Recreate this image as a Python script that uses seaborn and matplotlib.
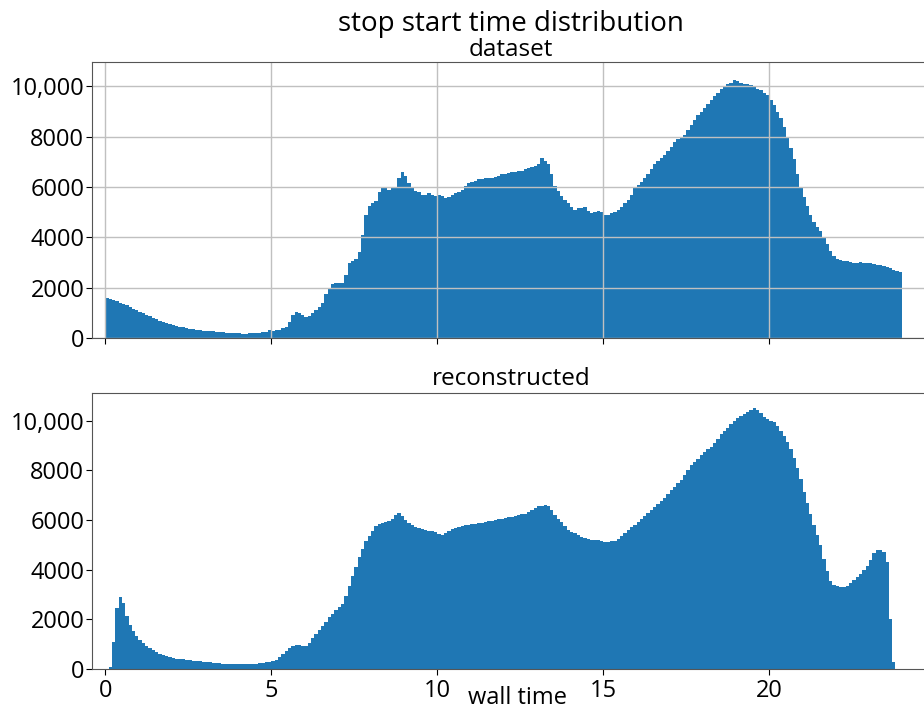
import numpy as np
import pandas as pd
import matplotlib
matplotlib.use("Agg")
import matplotlib.pyplot as plt
from matplotlib.ticker import FuncFormatter
import seaborn as sns

plt.rcParams['font.family'] = ['Open Sans', 'DejaVu Sans']

# bin width 0.1 h, 0 .. 24 h
bin_width = 0.1
n_bins = 240

dataset_counts = [
    1600, 1560, 1510, 1460, 1410, 1360, 1310, 1240, 1170, 1100,
    1040, 980, 920, 860, 800, 740, 680, 630, 580, 540,
    510, 480, 450, 420, 400, 370, 340, 320, 300, 290,
    280, 270, 260, 250, 235, 220, 210, 200, 195, 185,
    180, 175, 175, 180, 185, 195, 210, 225, 250, 300,
    290, 300, 330, 380, 450, 650, 900, 1020, 1000, 900,
    820, 860, 980, 1100, 1250, 1400, 1750, 2000, 2150, 2170,
    2180, 2200, 2500, 3000, 3050, 3150, 3400, 4100, 4900, 5250,
    5350, 5450, 5800, 5950, 5950, 5900, 5950, 6000, 6350, 6600,
    6450, 6150, 5950, 5850, 5800, 5700, 5700, 5750, 5700, 5650,
    5700, 5650, 5550, 5600, 5700, 5750, 5800, 5900, 6050, 6150,
    6200, 6250, 6300, 6300, 6350, 6350, 6350, 6400, 6450, 6500,
    6520, 6550, 6580, 6600, 6620, 6650, 6700, 6750, 6800, 6850,
    6900, 7150, 7050, 6900, 6500, 6050, 5850, 5650, 5500, 5350,
    5200, 5080, 5150, 5150, 5200, 5050, 4950, 5000, 5050, 5000,
    4900, 4870, 4950, 5000, 5080, 5200, 5350, 5480, 5700, 6000,
    6100, 6200, 6340, 6500, 6700, 6900, 7050, 7150, 7270, 7450,
    7600, 7800, 7900, 8000, 8060, 8250, 8450, 8650, 8850, 9000,
    9150, 9300, 9450, 9600, 9750, 9900, 10000, 10100, 10150, 10250,
    10200, 10150, 10100, 10100, 10050, 10000, 9900, 9850, 9750, 9650,
    9450, 9250, 9000, 8750, 8400, 8000, 7550, 7100, 6500, 6000,
    5600, 5250, 4900, 4600, 4400, 4250, 4000, 3750, 3450, 3250,
    3150, 3100, 3080, 3050, 3020, 3000, 3000, 3020, 3000, 3000,
    2980, 2950, 2920, 2900, 2880, 2820, 2780, 2720, 2680, 2630,
]

reconstructed_counts = [
    0, 80, 1100, 2450, 2900, 2650, 2150, 1780, 1520, 1320,
    1170, 1040, 930, 840, 760, 690, 620, 560, 510, 470,
    440, 420, 405, 390, 375, 355, 340, 320, 305, 290,
    280, 265, 250, 240, 230, 220, 210, 200, 195, 190,
    185, 185, 190, 195, 200, 210, 225, 245, 270, 295,
    330, 370, 480, 600, 720, 830, 930, 970, 950, 930,
    920, 1050, 1250, 1420, 1580, 1750, 1900, 2080, 2230, 2380,
    2480, 2600, 2950, 3350, 3750, 4100, 4500, 4850, 5150, 5350,
    5550, 5750, 5850, 5880, 5920, 5950, 6050, 6200, 6300, 6150,
    6020, 5900, 5800, 5720, 5680, 5640, 5600, 5570, 5540, 5500,
    5450, 5400, 5480, 5580, 5650, 5700, 5730, 5760, 5800, 5820,
    5840, 5860, 5880, 5900, 5920, 5950, 5980, 6010, 6040, 6060,
    6080, 6110, 6140, 6170, 6200, 6230, 6260, 6330, 6420, 6500,
    6550, 6580, 6600, 6550, 6400, 6200, 6050, 5920, 5750, 5600,
    5530, 5470, 5400, 5330, 5280, 5240, 5210, 5200, 5180, 5150,
    5130, 5130, 5150, 5170, 5220, 5350, 5470, 5600, 5710, 5820,
    5930, 6035, 6150, 6280, 6400, 6520, 6630, 6750, 6900, 7050,
    7200, 7340, 7480, 7620, 7820, 8020, 8220, 8350, 8480, 8620,
    8750, 8850, 8950, 9100, 9280, 9450, 9600, 9730, 9860, 9980,
    10100, 10200, 10280, 10350, 10420, 10500, 10450, 10300, 10150, 10080,
    10000, 9950, 9800, 9600, 9400, 9150, 8850, 8500, 8100, 7650,
    7150, 6700, 6250, 5800, 5400, 5000, 4450, 3950, 3550, 3380,
    3330, 3310, 3320, 3350, 3450, 3580, 3700, 3820, 3980, 4150,
    4400, 4680, 4800, 4780, 4730, 4300, 2000, 300, 0, 0,
]

x_ticks = [0, 5, 10, 15, 20]
y_ticks = [0, 2000, 4000, 6000, 8000, 10000]
suptitle = "stop start time distribution"
titles = ["dataset", "reconstructed"]
xlabel = "wall time"

centers = (np.arange(n_bins) + 0.5) * bin_width

W, H = 924, 713
fig = plt.figure(figsize=(W / 100, H / 100), dpi=100)

left_px, right_px = 92, 930
ax_w = (right_px - left_px) / W
ax_top = fig.add_axes([left_px / W, 1 - 338 / H, ax_w, 276 / H])
ax_bot = fig.add_axes([left_px / W, 1 - 669 / H, ax_w, 276 / H], sharex=ax_top)

color = "#1f77b4"
for ax, counts in [(ax_top, dataset_counts), (ax_bot, reconstructed_counts)]:
    df = pd.DataFrame({"t": centers, "n": np.asarray(counts, dtype=float)})
    sns.histplot(data=df, x="t", weights="n", binwidth=bin_width,
                 binrange=(0, n_bins * bin_width), element="step",
                 fill=True, color=color, alpha=1, linewidth=0, ax=ax)
    ax.set_ylabel("")
    ax.set_xlabel("")
    ax.set_yticks(y_ticks)
    ax.yaxis.set_major_formatter(FuncFormatter(
        lambda v, p: f"{v:,.0f}" if v >= 10000 else f"{v:.0f}"))
    ax.tick_params(labelsize=17, colors="black", length=4)
    ax.tick_params(axis="y", pad=1.5)
    for s in ax.spines.values():
        s.set_color("#555555")

ax_top.set_xlim(-0.40, 24.84)
ax_top.set_ylim(0, 10970)
ax_bot.set_ylim(0, 11120)
ax_top.set_xticks(x_ticks)
ax_top.tick_params(axis="x", labelbottom=False)
ax_top.grid(True, color="#c0c0c0", linewidth=1)
ax_bot.grid(False)

ax_top.set_title(titles[0], fontsize=17.5, pad=2)
ax_bot.set_title(titles[1], fontsize=17.5, pad=6)
ax_bot.set_xlabel(xlabel, fontsize=17)
ax_bot.xaxis.set_label_coords((518 - left_px) / (right_px - left_px), -0.062)

fig.suptitle(suptitle, fontsize=20, x=511 / W, y=1 - 10 / H, va="top")

fig.savefig("out.png", dpi=100)
